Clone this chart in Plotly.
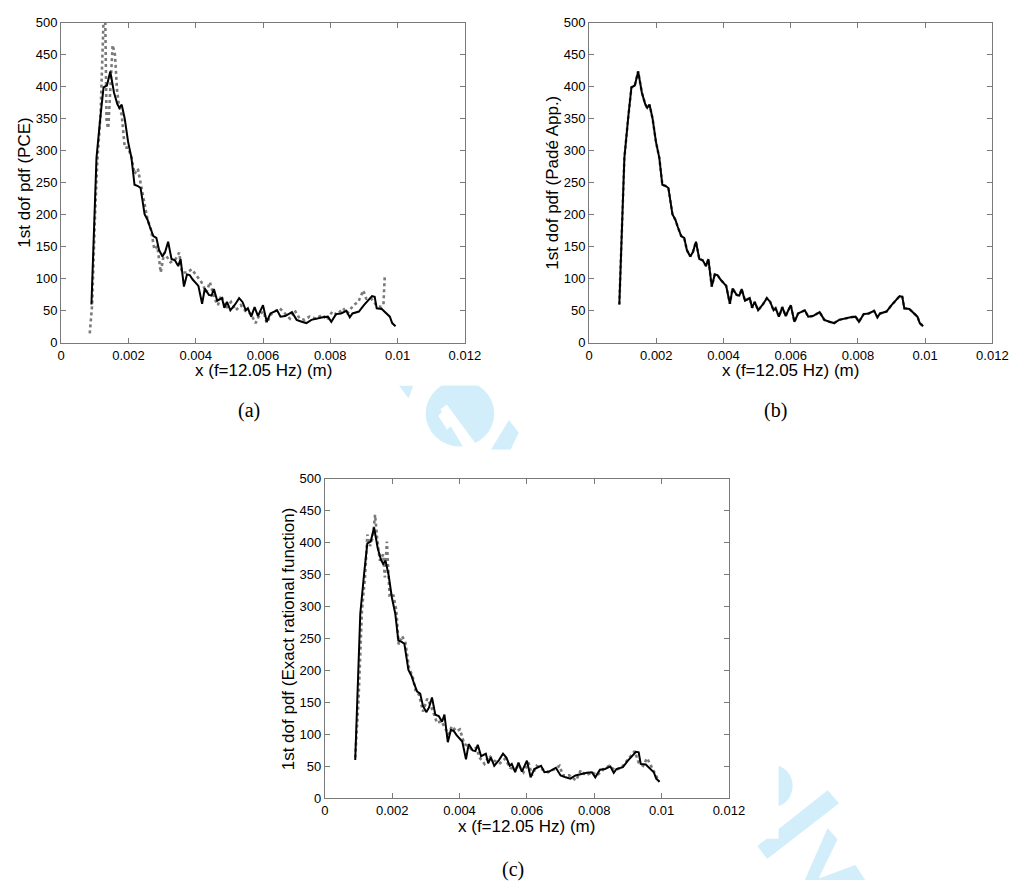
import plotly.graph_objects as go

# ---------------- data ----------------
x_ticks = [0, 0.002, 0.004, 0.006, 0.008, 0.01, 0.012]
x_tick_labels = ["0", "0.002", "0.004", "0.006", "0.008", "0.01", "0.012"]
y_ticks = [0, 50, 100, 150, 200, 250, 300, 350, 400, 450, 500]
y_tick_labels = [str(v) for v in y_ticks]

# reference pdf (solid black line, same in all panels)
x_exact = [0.00090, 0.00105, 0.00117, 0.00126, 0.00136, 0.00146, 0.00157, 0.00167, 0.00173, 0.00180,
           0.00189, 0.00199, 0.00209, 0.00218, 0.00228, 0.00236, 0.00248, 0.00257, 0.00264, 0.00274,
           0.00283, 0.00291, 0.00301, 0.00309, 0.00318, 0.00328, 0.00338, 0.00348, 0.00355, 0.00365,
           0.00374, 0.00382, 0.00391, 0.00408, 0.00419, 0.00427, 0.00439, 0.00447, 0.00454, 0.00464,
           0.00478, 0.00485, 0.00493, 0.00503, 0.00517, 0.00529, 0.00539, 0.00549, 0.00555, 0.00565,
           0.00575, 0.00585, 0.00600, 0.00611, 0.00622, 0.00642, 0.00652, 0.00666, 0.00686, 0.00700,
           0.00715, 0.00729, 0.00744, 0.00759, 0.00778, 0.00793, 0.00803, 0.00817, 0.00832, 0.00848,
           0.00858, 0.00866, 0.00885, 0.00900, 0.00914, 0.00924, 0.00932, 0.00938, 0.00953, 0.00968,
           0.00977, 0.00984, 0.00994]
y_exact = [60, 289, 355, 399, 402, 424, 391, 373, 367, 372,
           350, 314, 289, 247, 245, 242, 201, 192, 181, 167,
           164, 145, 135, 142, 158, 131, 129, 120, 131, 88,
           107, 106, 99, 89, 61, 85, 75, 74, 84, 66,
           70, 55, 64, 51, 60, 70, 64, 51, 54, 41,
           56, 42, 59, 33, 46, 51, 41, 42, 48, 36,
           33, 31, 36, 38, 40, 41, 33, 45, 46, 50,
           40, 46, 49, 59, 67, 73, 72, 54, 53, 46,
           41, 31, 26]

# (a) PCE approximation (dotted)
x_pce = [0.00085, 0.00092, 0.00100, 0.00107, 0.00117, 0.00123, 0.00127, 0.00131, 0.00135, 0.00140,
         0.00146, 0.00153, 0.00160, 0.00166, 0.00172, 0.00180, 0.00189, 0.00199, 0.00209, 0.00218,
         0.00228, 0.00238, 0.00248, 0.00257, 0.00267, 0.00277, 0.00286, 0.00296, 0.00306, 0.00316,
         0.00325, 0.00340, 0.00351, 0.00359, 0.00374, 0.00388, 0.00403, 0.00417, 0.00432, 0.00442,
         0.00456, 0.00466, 0.00476, 0.00490, 0.00505, 0.00519, 0.00534, 0.00549, 0.00563, 0.00578,
         0.00592, 0.00602, 0.00611, 0.00626, 0.00650, 0.00665, 0.00680, 0.00694, 0.00709, 0.00723,
         0.00738, 0.00757, 0.00776, 0.00791, 0.00806, 0.00820, 0.00838, 0.00851, 0.00869, 0.00883,
         0.00898, 0.00907, 0.00922, 0.00937, 0.00951, 0.00958, 0.00962]
y_pce = [15, 59, 190, 280, 356, 440, 520, 510, 345, 335,
         400, 465, 450, 395, 370, 356, 305, 305, 290, 264,
         272, 244, 213, 192, 177, 146, 151, 110, 141, 133,
         126, 131, 141, 110, 110, 115, 105, 95, 79, 95,
         69, 59, 74, 54, 64, 51, 59, 49, 46, 31,
         46, 49, 31, 46, 54, 46, 38, 51, 38, 36,
         41, 38, 44, 36, 49, 44, 54, 46, 59, 64,
         82, 69, 69, 59, 56, 60, 105]

# (b) Pade approximation (dotted, overlapping the reference)
x_pade = list(x_exact)
y_pade = list(y_exact)

# (c) exact rational function (dotted)
x_rat = [0.00090, 0.00100, 0.00110, 0.00119, 0.00126, 0.00134, 0.00142, 0.00149, 0.00155, 0.00163,
         0.00173, 0.00178, 0.00184, 0.00192, 0.00202, 0.00212, 0.00219, 0.00229, 0.00239, 0.00250,
         0.00260, 0.00270, 0.00280, 0.00291, 0.00304, 0.00314, 0.00323, 0.00333, 0.00346, 0.00357,
         0.00367, 0.00377, 0.00391, 0.00401, 0.00414, 0.00425, 0.00435, 0.00450, 0.00459, 0.00474,
         0.00488, 0.00503, 0.00520, 0.00535, 0.00550, 0.00565, 0.00575, 0.00590, 0.00605, 0.00615,
         0.00629, 0.00644, 0.00663, 0.00683, 0.00697, 0.00707, 0.00726, 0.00746, 0.00760, 0.00775,
         0.00794, 0.00809, 0.00828, 0.00845, 0.00862, 0.00882, 0.00901, 0.00920, 0.00932, 0.00945,
         0.00957, 0.00969, 0.00984, 0.00993]
y_rat = [64, 156, 295, 346, 413, 395, 408, 444, 408, 372,
         382, 346, 402, 318, 321, 295, 241, 254, 244, 203,
         192, 167, 162, 136, 156, 146, 133, 118, 121, 110,
         100, 113, 105, 108, 85, 82, 77, 79, 64, 54,
         67, 59, 55, 62, 48, 45, 52, 41, 56, 36,
         51, 46, 41, 46, 51, 36, 36, 28, 44, 36,
         41, 36, 46, 51, 44, 49, 62, 74, 56, 51,
         63, 51, 36, 26]

y_titles = ["1st dof pdf (PCE)", "1st dof pdf (Padé App.)", "1st dof pdf (Exact rational function)"]
x_title = "x (f=12.05 Hz) (m)"
captions = ["(a)", "(b)", "(c)"]

# ---------------- layout helpers ----------------
W, H = 1027, 888
SANS = "Liberation Sans, Arial, sans-serif"
SERIF = "Liberation Serif, Times New Roman, serif"

def px(x, y):
    return x / W, 1 - y / H

# panel boxes in pixels: (left, right, top, bottom)
boxes = [(58.3, 470.0, 16.0, 341.7), (596.7, 1008.0, 16.0, 341.7), (327.3, 739.3, 480.0, 805.0)]

fig = go.Figure()
dotted = [(x_pce, y_pce), (x_pade, y_pade), (x_rat, y_rat)]
for i in range(3):
    ax = "" if i == 0 else str(i + 1)
    dx, dy = dotted[i]
    fig.add_trace(go.Scatter(x=dx, y=dy, mode="lines", xaxis="x" + ax, yaxis="y" + ax,
                             line=dict(color="#7a7a7a", width=2.6, dash="dot"), showlegend=False))
    fig.add_trace(go.Scatter(x=x_exact, y=y_exact, mode="lines", xaxis="x" + ax, yaxis="y" + ax,
                             line=dict(color="black", width=2), showlegend=False))

axis_common = dict(showline=True, mirror="ticks", linecolor="#7a7a7a", linewidth=1,
                   ticks="inside", ticklen=5, tickcolor="#7a7a7a", showgrid=False, zeroline=False,
                   tickfont=dict(family=SANS, size=13, color="black"))

layout = dict(width=W, height=H, margin=dict(l=0, r=0, t=0, b=0),
              paper_bgcolor="white", plot_bgcolor="white", showlegend=False)
annotations = []
for i, (l, r, t, b) in enumerate(boxes):
    ax = "" if i == 0 else str(i + 1)
    x0, y1 = px(l, t)
    x1, y0 = px(r, b)
    layout["xaxis" + ax] = dict(axis_common, domain=[x0, x1], range=[0, 0.012],
                                tickvals=x_ticks, ticktext=x_tick_labels,
                                anchor="y" + ax)
    layout["yaxis" + ax] = dict(axis_common, domain=[y0, y1], range=[0, 500],
                                tickvals=y_ticks, ticktext=y_tick_labels,
                                anchor="x" + ax)
    cx = (l + r) / 2
    ax_x, ax_y = px(cx, b + 28.5)
    annotations.append(dict(text=x_title, x=ax_x, y=ax_y, xref="paper", yref="paper",
                            xanchor="center", yanchor="middle", showarrow=False,
                            font=dict(family=SANS, size=17, color="black")))
    yt_x, yt_y = px(l - 37, (t + b) / 2)
    annotations.append(dict(text=y_titles[i], x=yt_x, y=yt_y, xref="paper", yref="paper",
                            xanchor="center", yanchor="middle", textangle=-90, showarrow=False,
                            font=dict(family=SANS, size=17, color="black")))

cap_pos = [(250, 410), (787, 410), (519, 877)]
for c, (cx, cy) in zip(captions, cap_pos):
    xx, yy = px(cx, cy)
    annotations.append(dict(text=c, x=xx, y=yy, xref="paper", yref="paper", showarrow=False,
                            xanchor="center", yanchor="middle",
                            font=dict(family=SERIF, size=20, color="black")))
layout["annotations"] = annotations

# faint watermark fragments visible between the panels
WM = "#d2eefb"
def poly(points):
    s = ""
    for k, (x, y) in enumerate(points):
        xx, yy = px(x, y)
        s += ("M" if k == 0 else "L") + f"{xx:.5f},{yy:.5f} "
    return s + "Z"

shapes = []
def add(path, color):
    shapes.append(dict(type="path", path=path, xref="paper", yref="paper",
                       fillcolor=color, line=dict(width=0), layer="below"))

add(poly([(402.7, 385), (417.3, 385), (412.7, 398.3)]), WM)
# "e" fragment
ex0, ey0 = px(430, 380)
ex1, ey1 = px(500, 447)
shapes.append(dict(type="circle", xref="paper", yref="paper", x0=ex0, y0=ey1, x1=ex1, y1=ey0,
                   fillcolor=WM, line=dict(width=0), layer="below"))
add(poly([(451.5, 404.3), (481.0, 444.0), (481.0, 452.0), (471.0, 452.0), (445.1, 409.1)]), "white")
add(poly([(443, 416), (452, 405), (462, 420), (452, 430)]), "white")
add(poly([(400, 360), (520, 360), (520, 385), (400, 385)]), "white")
add(poly([(496.7, 450), (515, 420), (525, 433), (516.7, 450)]), WM)
# lower right fragments
add(f"M{px(790,771.7)[0]:.5f},{px(790,771.7)[1]:.5f} "
    f"C{px(809,778)[0]:.5f},{px(809,778)[1]:.5f} {px(809,806)[0]:.5f},{px(809,806)[1]:.5f} "
    f"{px(790,813)[0]:.5f},{px(790,813)[1]:.5f} Z", WM)
add(poly([(790, 836), (840, 796.7), (851.7, 810), (778.3, 866.7), (768.3, 853.3), (778, 846), (790, 846)]), WM)
add(poly([(816.7, 888), (840, 835), (850, 846.7), (830, 888)]), WM)
add(poly([(826.7, 888), (868.3, 872.7), (878.3, 888)]), WM)
layout["shapes"] = shapes

fig.update_layout(**layout)
fig.write_html("out.html")
